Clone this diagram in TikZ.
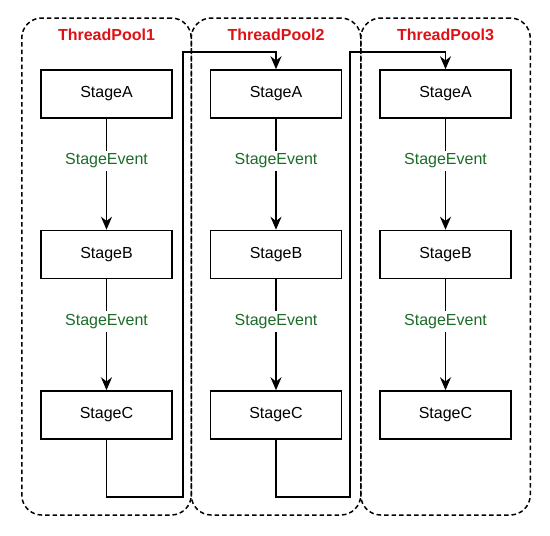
\documentclass[tikz,border=0pt]{standalone}
\usepackage{fontspec}
\setmainfont{Liberation Sans}
\usepackage{tikz}
\usetikzlibrary{arrows.meta,positioning}
\definecolor{poolred}{RGB}{222,18,22}
\definecolor{eventgreen}{RGB}{28,108,40}

\begin{document}
\begin{tikzpicture}[node distance=160.5pt and 169.5pt,on grid,
  stage/.style={draw,line width=1.5pt,minimum width=131pt,minimum height=48pt,font=\fontsize{16}{18}\selectfont},
  pool/.style={draw,dash pattern=on 4.5pt off 3pt,line width=1.5pt,rounded corners=20pt,minimum width=169.5pt,minimum height=497pt},
  title/.style={text=poolred,font=\bfseries\fontsize{16}{18}\selectfont},
  event/.style={fill=white,text=eventgreen,font=\fontsize{16}{18}\selectfont,inner sep=3pt},
  arr/.style={-{Stealth[length=13pt,width=11pt]},line width=1.5pt}]
  \useasboundingbox (0,0) rectangle (550pt,-536pt);
  % pools
  \node[pool] (p1) at (106.5pt,-266.5pt) {};
  \node[pool] (p2) [right = of p1] {};
  \node[pool] (p3) [right = of p2] {};
  \node[title] (t1) at ([yshift=-18pt]p1.north) {ThreadPool1};
  \node[title] (t2) at ([yshift=-18pt]p2.north) {ThreadPool2};
  \node[title] (t3) at ([yshift=-18pt]p3.north) {ThreadPool3};
  % stages
  \node[stage] (a1) at (106.5pt,-94pt) {StageA};
  \node[stage] (b1) [below = of a1] {StageB};
  \node[stage] (c1) [below = of b1] {StageC};
  \node[stage] (a2) [right = of a1] {StageA};
  \node[stage] (b2) [below = of a2] {StageB};
  \node[stage] (c2) [below = of b2] {StageC};
  \node[stage] (a3) [right = of a2] {StageA};
  \node[stage] (b3) [below = of a3] {StageB};
  \node[stage] (c3) [below = of b3] {StageC};
  % hand-over points
  \coordinate (d1) at (183pt,-497pt);
  \coordinate (u1) at (183pt,-52pt);
  \coordinate (d2) at (350pt,-497pt);
  \coordinate (u2) at (350pt,-52pt);
  \path[arr]
  (a1) edge node [event,pos=0.38] {StageEvent} (b1)
  (b1) edge node [event,pos=0.38] {StageEvent} (c1)
  (a2) edge node [event,pos=0.38] {StageEvent} (b2)
  (b2) edge node [event,pos=0.38] {StageEvent} (c2)
  (a3) edge node [event,pos=0.38] {StageEvent} (b3)
  (b3) edge node [event,pos=0.38] {StageEvent} (c3)
  ;
  \draw[arr] (c1.south) |- (d1) -- (u1) -| (a2.north);
  \draw[arr] (c2.south) |- (d2) -- (u2) -| (a3.north);
\end{tikzpicture}
\end{document}
